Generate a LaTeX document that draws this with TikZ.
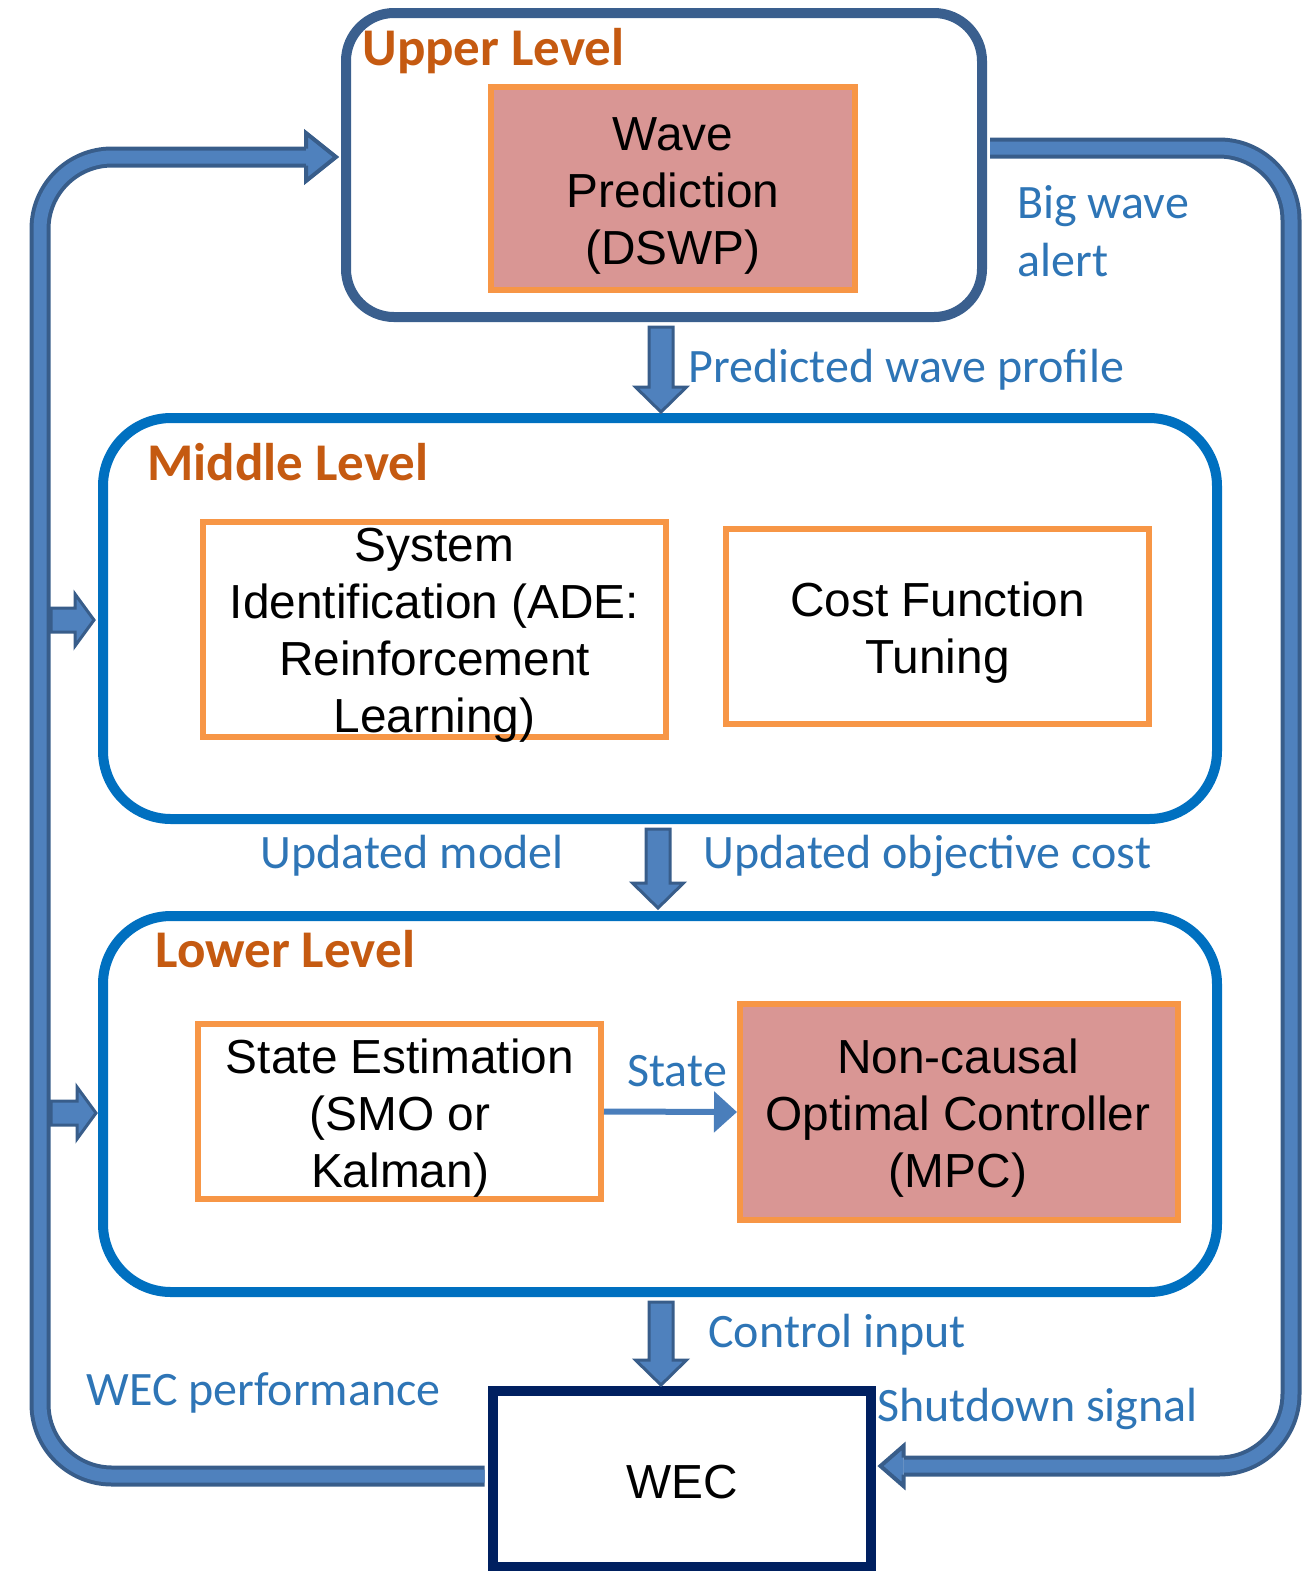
\documentclass[tikz,border=0pt]{standalone}
\usepackage{fontspec}
\newfontfamily\arialf{Liberation Sans}
\newfontfamily\calf{Carlito}
\usetikzlibrary{calc,arrows.meta}
\definecolor{upperS}{HTML}{3A5F8E}
\definecolor{levelS}{HTML}{0070C0}
\definecolor{orangeS}{HTML}{F79646}
\definecolor{pinkF}{HTML}{D99694}
\definecolor{orangeT}{HTML}{C55A11}
\definecolor{blueT}{HTML}{2E75B6}
\definecolor{pipeL}{HTML}{4F81BD}
\definecolor{pipeD}{HTML}{385D8A}
\definecolor{wecS}{HTML}{002060}
\definecolor{stateA}{HTML}{4A7EBB}
\newcommand\downblock[2]{%
  \draw[blockarrow] let \p1=(#1), \p2=(#2) in
  (\x2-6pt,\y1) -- (\x2-6pt,\y2+12.5pt) -- (\x2-12.75pt,\y2+12.5pt) -- (\x2,\y2)
  -- (\x2+12.75pt,\y2+12.5pt) -- (\x2+6pt,\y2+12.5pt) -- (\x2+6pt,\y1) -- cycle;}
\newcommand\rightblock[2]{%
  \draw[blockarrow] let \p1=(#1), \p2=(#2) in
  (\x1,\y2+6pt) -- (\x2-9.5pt,\y2+6pt) -- (\x2-9.5pt,\y2+13pt) -- (\x2,\y2)
  -- (\x2-9.5pt,\y2-13pt) -- (\x2-9.5pt,\y2-6pt) -- (\x1,\y2-6pt) -- cycle;}
\begin{document}
\begin{tikzpicture}[x=0.5pt,y=-0.5pt,
  levelbox/.style={draw, line width=5pt, rounded corners=30pt, inner sep=0pt},
  orangebox/.style={draw=orangeS, line width=3pt, inner sep=0pt},
  boxtext/.style={font=\arialf\fontsize{23.9pt}{28.5pt}\selectfont, align=center, inner sep=0pt},
  lvlabel/.style={font=\calf\bfseries\fontsize{26.5pt}{31pt}\selectfont, text=orangeT, inner sep=0pt, anchor=base west},
  bluelab/.style={font=\calf\fontsize{24pt}{28.5pt}\selectfont, text=blueT, inner sep=0pt, anchor=base west},
  pipe/.style={draw=pipeD, double=pipeL, line width=2pt, double distance=6.5pt},
  blockarrow/.style={fill=pipeL, draw=pipeD, line width=1.5pt, line join=miter},
]
\useasboundingbox (0,0) rectangle (1303,1571);

% level containers
\node[levelbox, draw=upperS, minimum width=318pt, minimum height=152pt, rounded corners=24pt] (upper) at (664,165) {};
\node[levelbox, draw=levelS, minimum width=557pt, minimum height=200.5pt, rounded corners=34pt] (middle) at (660,618.5) {};
\node[levelbox, draw=levelS, minimum width=557pt, minimum height=188pt, rounded corners=34pt] (lower) at (660,1104) {};
\node[draw=wecS, line width=5pt, minimum width=189pt, minimum height=88pt, inner sep=0pt] (wec) at (681.5,1479) {};

% inner boxes
\node[orangebox, fill=pinkF, minimum width=182pt, minimum height=101.5pt] (wp) at (673,188.5) {};
\node[orangebox, minimum width=231.5pt, minimum height=107.5pt] (sysid) at (434.5,629.5) {};
\node[orangebox, minimum width=211.5pt, minimum height=97.5pt] (cost) at (937.5,626.5) {};
\node[orangebox, minimum width=201.5pt, minimum height=87.5pt] (stest) at (399.5,1111.5) {};
\node[orangebox, fill=pinkF, minimum width=219pt, minimum height=108pt] (mpc) at (959,1112) {};

% box texts
\node[boxtext] (wpt) at (673,196) {Wave\\Prediction\\(DSWP)};
\node[boxtext] (sysidt) at (434.5,635) {System\\Identification (ADE:\\Reinforcement\\Learning)};
\node[boxtext] (costt) at (937.5,633) {Cost Function\\Tuning};
\node[boxtext] (stestt) at (400,1118) {State Estimation\\(SMO or\\Kalman)};
\node[boxtext] (mpct) at (958,1118) {Non-causal\\Optimal Controller\\(MPC)};
\node[boxtext] (wect) at (682,1482) {WEC};

% level labels
\node[lvlabel] (ul) at (362,65) {Upper Level};
\node[lvlabel] (ml) at (147,480) {Middle Level};
\node[lvlabel] (ll) at (155,967) {Lower Level};

% signal labels
\node[bluelab] (bw1) at (1017,218) {Big wave};
\node[bluelab] (bw2) at (1017,276) {alert};
\node[bluelab] (pwp) at (688,382) {Predicted wave profile};
\node[bluelab] (um) at (260,868) {Updated model};
\node[bluelab] (uoc) at (703,868) {Updated objective cost};
\node[bluelab] (st) at (627,1086) {State};
\node[bluelab] (ci) at (708,1347) {Control input};
\node[bluelab] (wecp) at (86,1405) {WEC performance};
\node[bluelab] (sd) at (877,1421) {Shutdown signal};

% state arrow
\draw[stateA, line width=3pt, -{Triangle[length=11.5pt,width=20pt]}] (stest.east) -- (mpc.west);

% vertical block arrows
\coordinate (s1) at ($(upper.south)+(-3,5)$);
\coordinate (t1) at ($(middle.north)+(1,-1)$);
\coordinate (s2) at ($(middle.south)+(-2,5)$);
\coordinate (t2) at ($(lower.north)+(-2,-3)$);
\coordinate (s3) at ($(lower.south)+(1,5)$);
\coordinate (t3) at ($(wec.north)+(-20.5,-1)$);
\downblock{s1}{t1}
\downblock{s2}{t2}
\downblock{s3}{t3}

% left feedback loop (WEC performance)
\coordinate (lstart) at ($(wec.west)+(-3,-3)$);
\coordinate (ltip) at ($(upper.west)+(-5,-8)$);
\coordinate (lbase) at ($(ltip)+(-30,0)$);
\draw[pipe, rounded corners=36pt] (lstart) -- (40,1476) -- (40,157) -- (lbase);
\fill[pipeL] let \p1=(ltip) in (\x1-15pt,\y1+12pt) -- (\x1,\y1) -- (\x1-15pt,\y1-12pt) -- cycle;
\draw[pipeD, line width=2pt] let \p1=(ltip) in (\x1-15pt,\y1+4.25pt) -- (\x1-15pt,\y1+12pt) -- (\x1,\y1) -- (\x1-15pt,\y1-12pt) -- (\x1-15pt,\y1-4.25pt);

% branch arrows into middle and lower levels
\coordinate (bx) at (51,0);
\coordinate (tm) at ($(middle.west)+(-4,1.5)$);
\coordinate (tl) at ($(lower.west)+(-2,9)$);
\rightblock{bx}{tm}
\rightblock{bx}{tl}

% right loop (big wave alert -> shutdown signal)
\coordinate (rstart) at ($(upper.east)+(3,-17)$);
\coordinate (rtip) at ($(wec.east)+(5,-13)$);
\coordinate (rbase) at ($(rtip)+(23,0)$);
\draw[pipe, rounded corners=36pt] (rstart) -- (1291,148) -- (1291,1466) -- (rbase);
\fill[pipeL] let \p1=(rtip) in (\x1+11.5pt,\y1+10pt) -- (\x1,\y1) -- (\x1+11.5pt,\y1-10pt) -- cycle;
\draw[pipeD, line width=2pt] let \p1=(rtip) in (\x1+11.5pt,\y1+4.25pt) -- (\x1+11.5pt,\y1+10pt) -- (\x1,\y1) -- (\x1+11.5pt,\y1-10pt) -- (\x1+11.5pt,\y1-4.25pt);
\end{tikzpicture}
\end{document}
